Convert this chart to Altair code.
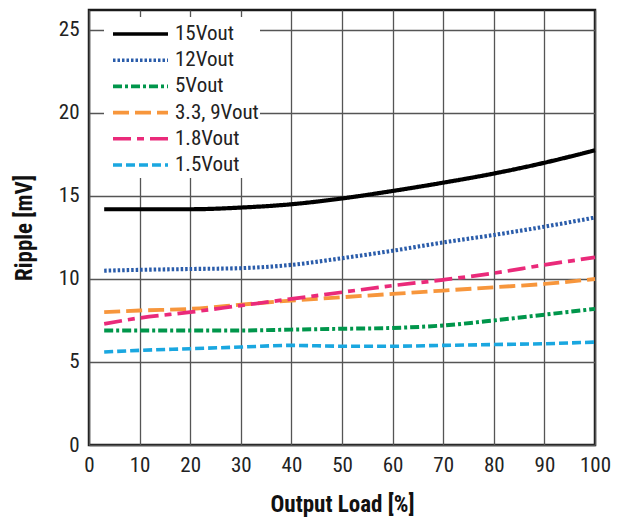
import altair as alt
import pandas as pd

load = [3, 10, 20, 30, 40, 50, 60, 70, 80, 90, 100]
series = ["15Vout", "12Vout", "5Vout", "3.3, 9Vout", "1.8Vout", "1.5Vout"]
v15 = [14.2, 14.2, 14.2, 14.3, 14.5, 14.85, 15.3, 15.8, 16.35, 17.0, 17.75]
v12 = [10.5, 10.55, 10.6, 10.65, 10.85, 11.25, 11.7, 12.2, 12.65, 13.15, 13.7]
v5 = [6.9, 6.9, 6.9, 6.9, 6.95, 7.0, 7.05, 7.2, 7.5, 7.85, 8.2]
v33 = [8.0, 8.1, 8.2, 8.45, 8.7, 8.9, 9.1, 9.3, 9.5, 9.7, 10.0]
v18 = [7.3, 7.65, 8.0, 8.4, 8.8, 9.2, 9.6, 9.95, 10.35, 10.85, 11.3]
v15b = [5.6, 5.7, 5.8, 5.9, 6.0, 5.95, 5.95, 6.0, 6.05, 6.1, 6.2]

colors = ["#000000", "#2a5caa", "#00964b", "#f7963c", "#ea2a7a", "#1aa7e0"]
dashes = [[1, 0], [2.5, 2], [9, 3, 3, 3], [16, 6], [18, 6, 7, 6], [9, 4]]
widths = [4.2, 3.6, 3.6, 3.6, 3.6, 3.6]

rows = []
for name, vals in zip(series, [v15, v12, v5, v33, v18, v15b]):
    for x, y in zip(load, vals):
        rows.append({"load": x, "ripple": y, "series": name})
df = pd.DataFrame(rows)
leg = pd.DataFrame({"series": series})

FONT = "Liberation Sans Narrow, Roboto Condensed, DejaVu Sans Condensed, Liberation Sans, sans-serif"

color = alt.Color("series:N", sort=series, scale=alt.Scale(domain=series, range=colors), legend=None)
dash = alt.StrokeDash("series:N", sort=series, scale=alt.Scale(domain=series, range=dashes), legend=None)
sw = alt.StrokeWidth("series:N", sort=series, scale=alt.Scale(domain=series, range=widths), legend=None)

lines = alt.Chart(df).mark_line(interpolate="monotone").encode(
    x=alt.X("load:Q", scale=alt.Scale(domain=[0, 100], nice=False),
            axis=alt.Axis(values=list(range(0, 101, 10)), title="Output Load [%]",
                          labelFlush=False)),
    y=alt.Y("ripple:Q", scale=alt.Scale(domain=[0, 26.2], nice=False),
            axis=alt.Axis(values=[0, 5, 10, 15, 20, 25], title="Ripple [mV]",
                          labelFlush=False)),
    color=color, strokeDash=dash, strokeWidth=sw,
)

legy = alt.Y("series:N", sort=series,
             scale=alt.Scale(type="point", domain=series, range=[24, 155], padding=0),
             axis=None)

legbg = alt.Chart(leg).mark_rect(fill="white", opacity=1).encode(
    x=alt.value(15), x2=alt.value(171), y=alt.value(7), y2=alt.value(168),
)
legrules = alt.Chart(leg).mark_rule(strokeWidth=3.6).encode(
    x=alt.value(24), x2=alt.value(79), y=legy, color=color, strokeDash=dash,
)
legtext = alt.Chart(leg).mark_text(align="left", baseline="middle", fontSize=21,
                                   font=FONT, color="#222222").encode(
    x=alt.value(86), y=legy, text="series:N",
)

chart = alt.layer(lines, legbg, legrules, legtext).resolve_scale(
    y="independent"
).properties(
    width=506, height=435,
    autosize=alt.AutoSizeParams(type="none"),
    padding={"left": 81, "top": 2, "right": 21, "bottom": 76},
).configure_view(
    stroke="#1a1a1a", strokeWidth=2.5,
).configure_axis(
    grid=True, gridColor="#555555", gridWidth=1.3, gridOpacity=1,
    domain=False, ticks=False,
    labelFont=FONT, labelFontSize=21, labelColor="#222222",
    titleFont=FONT, titleFontSize=23, titleFontWeight="bold", titleColor="#111111",
).configure_axisX(
    labelPadding=9, titlePadding=18,
).configure_axisY(
    labelPadding=10, titlePadding=22,
)

chart.save("out.html", embed_options={"renderer": "svg", "actions": False})
